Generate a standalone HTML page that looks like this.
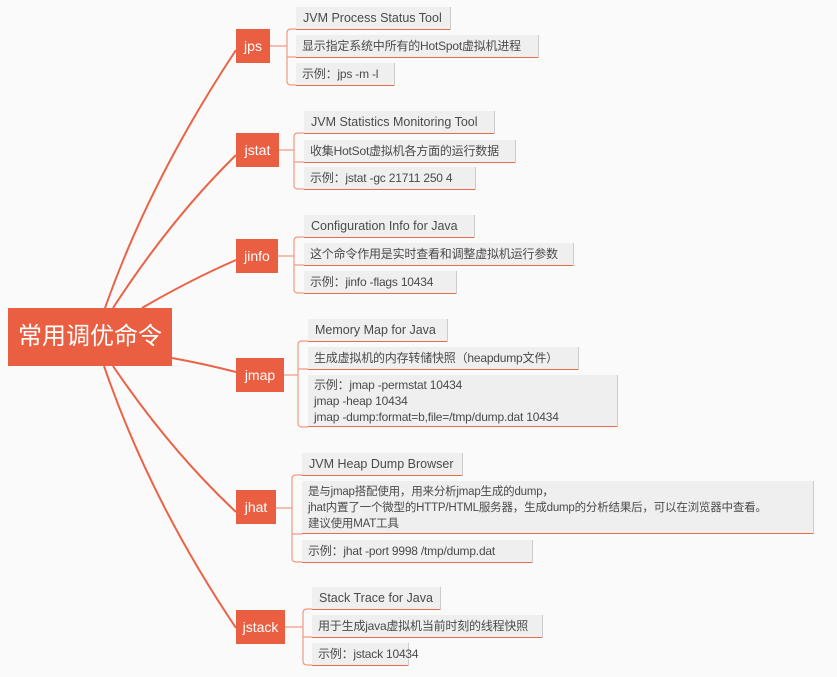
<!DOCTYPE html>
<html><head><meta charset="utf-8"><style>
body{margin:0;width:837px;height:677px;background:#fafafa;position:relative;overflow:hidden;font-family:"Liberation Sans","Noto Sans CJK SC",sans-serif;}
.root{position:absolute;left:8px;top:308px;width:164px;height:58px;background:#ea5f41;color:#fff;font-size:24px;line-height:58px;text-align:center;}
.b{position:absolute;left:236px;height:34px;background:#ea5f41;color:#fff;font-size:14px;line-height:34px;text-align:center;}
.l{position:absolute;background:#efefef;color:#4a4a4a;font-size:12.5px;line-height:22px;padding:0 7px;box-sizing:border-box;border-bottom:1.5px solid #ea6a4c;box-shadow:1px 0 0 #ccc;white-space:nowrap;}
.c{font-size:12px;padding:0 6px;letter-spacing:-0.2px}
svg{position:absolute;left:0;top:0}
</style></head><body>
<svg width="837" height="677" fill="none" stroke="#ea6347" stroke-width="2">
<path d="M105 308 Q150 180 236 50"/>
<path d="M113 308 Q170 220 236 155"/>
<path d="M142 308 Q190 280 236 260"/>
<path d="M172 358 Q205 364 236 372"/>
<path d="M113 366 Q170 450 236 512"/>
<path d="M104 366 Q150 500 236 628"/>
<g stroke-width="1.2" stroke="#f09a85">
<path d="M270 46 H287 M296 29 H291 Q287 29 287 33 V81 Q287 85 291 85 H296 M287 57 H296"/>
<path d="M279 150 H294 M304 133 H298 Q294 133 294 137 V185 Q294 189 298 189 H304 M294 162 H304"/>
<path d="M278 256 H294 M304 237 H298 Q294 237 294 241 V289 Q294 293 298 293 H304 M294 265 H304"/>
<path d="M284 375 H298 M308 341 H302 Q298 341 298 345 V423 Q298 427 302 427 H308 M298 369 H308"/>
<path d="M276 508 H292 M302 475 H296 Q292 475 292 479 V558 Q292 562 296 562 H302 M292 534 H302"/>
<path d="M285 627 H303 M312 609 H307 Q303 609 303 613 V661 Q303 665 307 665 H312 M303 637 H312"/>
</g>
</svg>
<div class="root">常用调优命令</div>
<div class="b" style="top:29px;width:34px">jps</div>
<div class="b" style="top:133px;width:43px">jstat</div>
<div class="b" style="top:239px;width:42px">jinfo</div>
<div class="b" style="top:358px;width:48px">jmap</div>
<div class="b" style="top:490px;width:40px">jhat</div>
<div class="b" style="top:610px;width:49px">jstack</div>

<div class="l" style="left:296px;top:7px;width:154px">JVM Process Status Tool</div>
<div class="l c" style="left:296px;top:35px;width:242px">显示指定系统中所有的HotSpot虚拟机进程</div>
<div class="l c" style="left:296px;top:63px;width:98px">示例：jps -m -l</div>

<div class="l" style="left:304px;top:111px;width:190px">JVM Statistics Monitoring Tool</div>
<div class="l c" style="left:304px;top:140px;width:211px">收集HotSot虚拟机各方面的运行数据</div>
<div class="l c" style="left:304px;top:167px;width:171px">示例：jstat -gc 21711 250 4</div>

<div class="l" style="left:304px;top:215px;width:170px">Configuration Info for Java</div>
<div class="l c" style="left:304px;top:243px;width:269px">这个命令作用是实时查看和调整虚拟机运行参数</div>
<div class="l c" style="left:304px;top:271px;width:152px">示例：jinfo -flags 10434</div>

<div class="l" style="left:308px;top:319px;width:139px">Memory Map for Java</div>
<div class="l c" style="left:308px;top:347px;width:270px">生成虚拟机的内存转储快照（heapdump文件）</div>
<div class="l c" style="left:308px;top:375px;width:309px;line-height:16px;padding-top:2px;height:52px">示例：jmap -permstat 10434<br>jmap -heap 10434<br>jmap -dump:format=b,file=/tmp/dump.dat 10434</div>

<div class="l" style="left:302px;top:453px;width:160px">JVM Heap Dump Browser</div>
<div class="l c" style="left:302px;top:481px;width:511px;line-height:16px;padding-top:3px;height:53px;font-size:11.5px">是与jmap搭配使用，用来分析jmap生成的dump，<br>jhat内置了一个微型的HTTP/HTML服务器，生成dump的分析结果后，可以在浏览器中查看。<br>建议使用MAT工具</div>
<div class="l c" style="left:302px;top:540px;width:230px">示例：jhat -port 9998 /tmp/dump.dat</div>

<div class="l" style="left:312px;top:587px;width:128px">Stack Trace for Java</div>
<div class="l c" style="left:312px;top:615px;width:230px">用于生成java虚拟机当前时刻的线程快照</div>
<div class="l c" style="left:312px;top:643px;width:96px">示例：jstack 10434</div>
</body></html>
